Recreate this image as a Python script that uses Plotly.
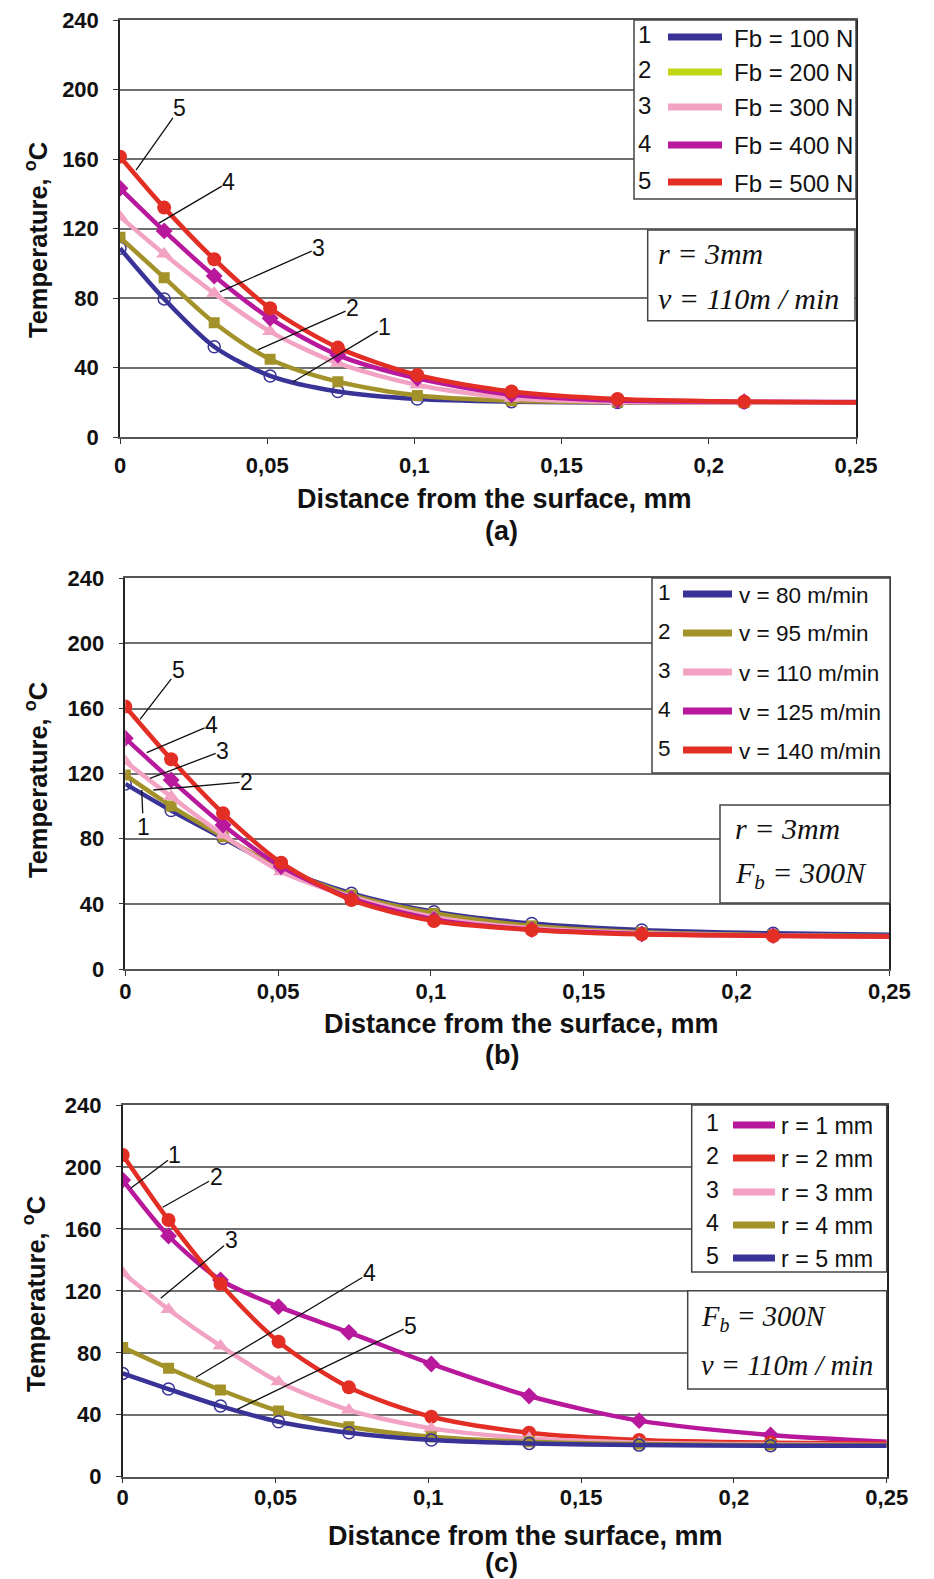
import plotly.graph_objects as go

W, H = 934, 1579

# ---------------- data ----------------
x_mm = [0, 0.015, 0.032, 0.051, 0.074, 0.101, 0.133, 0.169, 0.212, 0.25]

# (a) effect of burnishing force Fb
fb_labels = ["Fb = 100 N", "Fb = 200 N", "Fb = 300 N", "Fb = 400 N", "Fb = 500 N"]
fb_100 = [108.7, 79.6, 52.1, 35.3, 26.3, 22.0, 20.5, 20.0, 20.0, 20.0]
fb_200 = [115.0, 91.8, 65.9, 44.9, 32.0, 24.0, 21.0, 20.2, 20.0, 20.0]
fb_300 = [126.9, 105.4, 82.8, 60.8, 42.6, 30.1, 22.5, 20.5, 20.0, 20.0]
fb_400 = [143.2, 118.7, 92.8, 68.4, 47.3, 33.9, 24.5, 21.2, 20.5, 20.3]
fb_500 = [161.4, 132.1, 102.4, 74.2, 51.6, 35.8, 26.3, 22.0, 20.5, 20.0]

# (b) effect of velocity v
v_labels = ["v = 80 m/min", "v = 95 m/min", "v = 110 m/min", "v = 125 m/min", "v = 140 m/min"]
v_80 = [113.7, 97.3, 80.3, 61.8, 46.5, 35.2, 28.0, 24.0, 21.9, 21.0]
v_95 = [119.2, 100.1, 81.3, 61.8, 45.5, 34.2, 26.5, 22.5, 20.8, 20.3]
v_110 = [127.4, 105.9, 82.3, 59.8, 44.4, 32.0, 25.0, 22.0, 20.5, 20.0]
v_125 = [141.7, 116.1, 88.5, 62.9, 43.4, 30.5, 24.2, 21.5, 20.5, 20.0]
v_140 = [161.2, 128.8, 95.6, 65.3, 42.4, 29.5, 24.0, 21.3, 20.3, 19.9]

# (c) effect of radius r
r_labels = ["r = 1 mm", "r = 2 mm", "r = 3 mm", "r = 4 mm", "r = 5 mm"]
r_1 = [191.6, 155.4, 127.0, 109.8, 93.2, 72.8, 52.1, 36.2, 26.9, 22.6]
r_2 = [207.7, 165.7, 124.4, 87.2, 57.7, 38.7, 28.4, 23.7, 22.0, 21.5]
r_3 = [131.7, 108.0, 84.4, 61.3, 43.0, 31.2, 24.8, 22.0, 21.0, 20.5]
r_4 = [83.5, 70.0, 56.0, 42.4, 32.3, 25.8, 22.6, 21.1, 20.4, 20.3]
r_5 = [66.7, 56.6, 45.6, 35.5, 28.4, 23.7, 21.5, 20.4, 20.0, 20.0]

y_ticks = [0, 40, 80, 120, 160, 200, 240]
x_ticks = [0, 0.05, 0.1, 0.15, 0.2, 0.25]
x_ticktext = ["0", "0,05", "0,1", "0,15", "0,2", "0,25"]

# ---------------- styles ----------------
BLUE = "#3a3397"
OLIVE = "#a39229"
LIME = "#c3d616"
PINK = "#f2a2c2"
MAGENTA = "#b8189b"
RED = "#e22e24"

sty = {
    "blue": dict(color=BLUE, symbol="circle-open", size=12, mline=dict(color=BLUE, width=1.5)),
    "olive": dict(color=OLIVE, symbol="square", size=11, mline=dict(width=0)),
    "pink": dict(color=PINK, symbol="triangle-up", size=14, mline=dict(width=0)),
    "magenta": dict(color=MAGENTA, symbol="diamond", size=13, mline=dict(width=0)),
    "red": dict(color=RED, symbol="circle", size=14, mline=dict(width=0)),
}

SANS = "Liberation Sans, Arial, sans-serif"
SERIF = "Liberation Serif, Times New Roman, serif"


def px(x):
    return x / W


def py(y):
    return 1 - y / H


fig = go.Figure()

panels = [
    dict(xa="x", ya="y", series=[(fb_100, "blue"), (fb_200, "olive"), (fb_300, "pink"), (fb_400, "magenta"), (fb_500, "red")], names=fb_labels),
    dict(xa="x2", ya="y2", series=[(v_80, "blue"), (v_95, "olive"), (v_110, "pink"), (v_125, "magenta"), (v_140, "red")], names=v_labels),
    dict(xa="x3", ya="y3", series=[(r_1, "magenta"), (r_2, "red"), (r_3, "pink"), (r_4, "olive"), (r_5, "blue")], names=r_labels),
]

n = len(x_mm)
for p in panels:
    for (vals, key), name in zip(p["series"], p["names"]):
        s = sty[key]
        fig.add_trace(go.Scatter(
            x=x_mm, y=vals, name=name, xaxis=p["xa"], yaxis=p["ya"],
            mode="lines+markers", showlegend=False,
            line=dict(color=s["color"], width=4.5, shape="spline", smoothing=0.8),
            marker=dict(color=s["color"], symbol=s["symbol"], size=s["size"],
                        line=s["mline"], opacity=[1] * (n - 1) + [0]),
        ))

# ---------------- axes ----------------
domains = [
    dict(x=[px(120), px(856)], y=[py(437.3), py(20)], xstand=3),
    dict(x=[px(125.3), px(889.3)], y=[py(969), py(578.3)], xstand=-3),
    dict(x=[px(122.7), px(886.7)], y=[py(1476.7), py(1105)], xstand=-5),
]

tickfont = dict(family=SANS, size=22, color="#111", weight="bold")
layout_axes = {}
for i, d in enumerate(domains):
    sfx = "" if i == 0 else str(i + 1)
    anchor_x = "y" + sfx
    anchor_y = "x" + sfx
    layout_axes["xaxis" + sfx] = dict(
        domain=d["x"], anchor=anchor_x, range=[0, 0.25], tickvals=x_ticks, ticktext=x_ticktext,
        showgrid=False, zeroline=False, showline=True, linecolor="#555", linewidth=1.5, mirror=True,
        ticks="outside", ticklen=5, tickcolor="#333", tickwidth=1.2, tickfont=tickfont,
        ticklabelstandoff=d["xstand"], fixedrange=True, automargin=False,
    )
    layout_axes["yaxis" + sfx] = dict(
        domain=d["y"], anchor=anchor_y, range=[0, 240], tickvals=y_ticks,
        showgrid=True, gridcolor="#707070", gridwidth=1.5, zeroline=False,
        showline=True, linecolor="#222", linewidth=1.5, mirror=True,
        ticks="outside", ticklen=5, tickcolor="#333", tickwidth=1.2, tickfont=tickfont,
        ticklabelstandoff=10, fixedrange=True, automargin=False,
    )

fig.update_layout(**layout_axes)

annotations = []
shapes = []

# axis titles and panel labels
title_font = dict(family=SANS, size=27, color="#111", weight="bold")
xtitles = [(494.7, 499, 501, 531, "(a)"), (521.5, 1024, 502, 1055, "(b)"), (525, 1536, 502, 1563, "(c)")]
for cx, cy, lx, ly, lab in xtitles:
    annotations.append(dict(text="Distance from the surface, mm", x=px(cx), y=py(cy), xref="paper", yref="paper",
                            xanchor="center", yanchor="middle", showarrow=False, font=title_font))
    annotations.append(dict(text=lab, x=px(lx), y=py(ly), xref="paper", yref="paper",
                            xanchor="center", yanchor="middle", showarrow=False, font=title_font))

for cx, cy in [(36, 240), (36, 780), (34, 1294)]:
    annotations.append(dict(text="Temperature, <sup>o</sup>C", x=px(cx), y=py(cy), xref="paper", yref="paper",
                            xanchor="center", yanchor="middle", textangle=-90, showarrow=False,
                            font=dict(family=SANS, size=25.5, color="#111", weight="bold")))

# ---------------- legends (drawn boxes) ----------------
legends = [
    dict(box=(634, 20, 856, 199), rows=[37, 72, 107, 145, 182], numx=644, line=(668, 722), textx=732,
         colors=[BLUE, LIME, PINK, MAGENTA, RED], names=fb_labels, fs=24),
    dict(box=(652, 578, 890, 773), rows=[594, 633, 672, 711, 750], numx=664, line=(683, 732), textx=737,
         colors=[BLUE, OLIVE, PINK, MAGENTA, RED], names=v_labels, fs=22.5),
    dict(box=(691.7, 1105, 886.7, 1272), rows=[1125, 1158, 1192, 1225, 1258], numx=712, line=(733, 775), textx=779,
         colors=[MAGENTA, RED, PINK, OLIVE, BLUE], names=r_labels, fs=23.2),
]
for lg in legends:
    x0, y0, x1, y1 = lg["box"]
    leg_font = dict(family=SANS, size=lg["fs"], color="#111")
    shapes.append(dict(type="rect", xref="paper", yref="paper", x0=px(x0), y0=py(y0), x1=px(x1), y1=py(y1),
                       line=dict(color="#444", width=1.5), fillcolor="white", layer="above"))
    for k, (ry, col, nm) in enumerate(zip(lg["rows"], lg["colors"], lg["names"])):
        shapes.append(dict(type="line", xref="paper", yref="paper", x0=px(lg["line"][0]), x1=px(lg["line"][1]),
                           y0=py(ry), y1=py(ry), line=dict(color=col, width=7), layer="above"))
        annotations.append(dict(text=str(k + 1), x=px(lg["numx"]), y=py(ry - 2), xref="paper", yref="paper",
                                xanchor="center", yanchor="middle", showarrow=False, font=leg_font))
        annotations.append(dict(text=nm, x=px(lg["textx"]), y=py(ry + 1), xref="paper", yref="paper",
                                xanchor="left", yanchor="middle", showarrow=False, font=leg_font))

# ---------------- condition boxes ----------------
conds = [
    dict(box=(647.7, 230, 855, 320.7), textx=656, fs=30,
         lines=[(253, "<i>r = 3mm</i>"), (298, "<i>v = 110m / min</i>")]),
    dict(box=(720, 805, 890, 903), textx=733, fs=30,
         lines=[(828, "<i>r = 3mm</i>"), (875, "<i>F<sub>b</sub> = 300N</i>")]),
    dict(box=(687.7, 1290.7, 886.7, 1389), textx=699, fs=28.5,
         lines=[(1318, "<i>F<sub>b</sub> = 300N</i>"), (1365, "<i>v = 110m / min</i>")]),
]
for c in conds:
    x0, y0, x1, y1 = c["box"]
    cond_font = dict(family=SERIF, size=c["fs"], color="#111")
    shapes.append(dict(type="rect", xref="paper", yref="paper", x0=px(x0), y0=py(y0), x1=px(x1), y1=py(y1),
                       line=dict(color="#444", width=1.5), fillcolor="white", layer="above"))
    for ly, txt in c["lines"]:
        annotations.append(dict(text=txt, x=px(c["textx"]), y=py(ly), xref="paper", yref="paper",
                                xanchor="left", yanchor="middle", showarrow=False, font=cond_font))

# ---------------- leader labels ----------------
lbl_font = dict(family=SANS, size=23, color="#111")
leaders = [
    ("x", "y", [("5", 0.02035, 189.4, 0.00543, 153.7), ("4", 0.03697, 146.8, 0.01323, 123.2),
                ("3", 0.0675, 108.9, 0.0339, 83.6), ("2", 0.0790, 74.4, 0.0468, 50.3),
                ("1", 0.0899, 63.5, 0.0587, 31.8)]),
    ("x2", "y2", [("5", 0.01734, 183.7, 0.00481, 153.4), ("4", 0.02827, 149.9, 0.0070, 132.9),
                  ("3", 0.03187, 134.1, 0.00808, 117.1), ("2", 0.03973, 115.0, 0.00916, 109.95),
                  ("1", 0.00589, 87.4, 0.00537, 109.95)]),
    ("x3", "y3", [("1", 0.01711, 207.7, 0.00262, 186.2), ("2", 0.03053, 193.3, 0.01309, 174.0),
                  ("3", 0.03544, 152.8, 0.01243, 115.2), ("4", 0.08069, 131.3, 0.02399, 64.2),
                  ("5", 0.09424, 97.5, 0.0375, 43.5)]),
]
for xa, ya, items in leaders:
    for lab, lx, ly, hx, hy in items:
        annotations.append(dict(text=lab, x=hx, y=hy, ax=lx, ay=ly, xref=xa, yref=ya, axref=xa, ayref=ya,
                                showarrow=True, arrowhead=0, arrowwidth=1.3, arrowcolor="#111",
                                font=lbl_font, borderpad=0))

fig.update_layout(
    width=W, height=H, margin=dict(l=0, r=0, t=0, b=0, autoexpand=False),
    paper_bgcolor="white", plot_bgcolor="white",
    annotations=annotations, shapes=shapes, showlegend=False,
    font=dict(family=SANS),
)

fig.write_html("out.html")
